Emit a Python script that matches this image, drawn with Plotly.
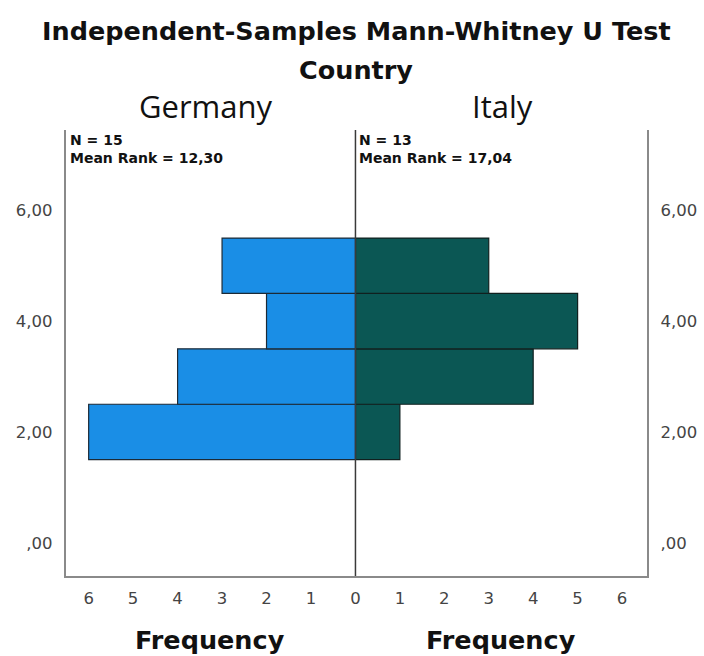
import plotly.graph_objects as go

# ---- data ----
score_bins = [2, 3, 4, 5]
germany_freq = [6, 4, 2, 3]
italy_freq = [1, 4, 5, 3]
groups = ["Germany", "Italy"]
group_n = [15, 13]
mean_ranks = ["12,30", "17,04"]
y_tickvals = [0, 2, 4, 6]
y_ticktext = [",00", "2,00", "4,00", "6,00"]
x_ticks_left = [0, 1, 2, 3, 4, 5, 6]
x_ticks_right = [1, 2, 3, 4, 5, 6]

W, H = 704, 656


def px(x):
    return x / W


def py(y):
    return 1 - y / H


LEFT, MID, RIGHT = 66, 358, 652
TOP, BOTTOM = 130, 576

fig = go.Figure()
fig.add_trace(go.Bar(
    y=score_bins, x=germany_freq, orientation="h", width=1,
    marker=dict(color="#1a8ee6", line=dict(color="#1c2a36", width=1.2)),
    xaxis="x", yaxis="y", showlegend=False, name=groups[0]))
fig.add_trace(go.Bar(
    y=score_bins, x=italy_freq, orientation="h", width=1,
    marker=dict(color="#0b5754", line=dict(color="#10201f", width=1.2)),
    xaxis="x2", yaxis="y2", showlegend=False, name=groups[1]))

tickfont = dict(family="DejaVu Sans", size=16.5, color="#444444")
axis_common = dict(showgrid=False, zeroline=False, ticks="", showline=True,
                   linecolor="#8a8a8a", linewidth=1.5, tickfont=tickfont,
                   fixedrange=True)

fig.update_layout(
    width=W, height=H,
    margin=dict(l=0, r=0, t=0, b=0),
    paper_bgcolor="white", plot_bgcolor="white",
    xaxis=dict(domain=[px(LEFT), px(MID)], range=[6.52, 0], tickvals=x_ticks_left,
               anchor="y", ticklabelstandoff=6, **axis_common),
    xaxis2=dict(domain=[px(MID), px(RIGHT)], range=[0, 6.57], tickvals=x_ticks_right,
                anchor="y2", ticklabelstandoff=6, **axis_common),
    yaxis=dict(domain=[py(BOTTOM), py(TOP)], range=[-0.6, 7.45], tickvals=y_tickvals,
               ticktext=y_ticktext, anchor="x", side="left", ticklabelstandoff=8,
               **axis_common),
    yaxis2=dict(domain=[py(BOTTOM), py(TOP)], range=[-0.6, 7.45], tickvals=y_tickvals,
                ticktext=y_ticktext, anchor="x2", side="right", ticklabelstandoff=8,
                **axis_common),
)

# middle divider line
fig.add_shape(type="line", xref="paper", yref="paper", x0=px(MID), x1=px(MID),
              y0=py(BOTTOM), y1=py(TOP), line=dict(color="#3a3a3a", width=1.5),
              layer="above")

bold = dict(family="DejaVu Sans", size=25.5, color="#111111")
ann = []
ann.append(dict(text="<b>Independent-Samples Mann-Whitney U Test</b>", x=px(359), y=py(31),
                font=bold))
ann.append(dict(text="<b>Country</b>", x=px(359), y=py(70), font=bold))
ann.append(dict(text=groups[0], x=px(207), y=py(106),
                font=dict(family="Open Sans", size=31, color="#111111")))
ann.append(dict(text=groups[1], x=px(506), y=py(106),
                font=dict(family="Open Sans", size=31, color="#111111")))
ann.append(dict(text="<b>Frequency</b>", x=px(212), y=py(640), font=bold))
ann.append(dict(text="<b>Frequency</b>", x=px(505), y=py(640), font=bold))

small = dict(family="DejaVu Sans", size=14, color="#111111")
for xs, n, mr in [(LEFT + 2, group_n[0], mean_ranks[0]), (MID + 2, group_n[1], mean_ranks[1])]:
    ann.append(dict(text=f"<b>N = {n}</b>", x=px(xs), y=py(140), xanchor="left", font=small))
    ann.append(dict(text=f"<b>Mean Rank = {mr}</b>", x=px(xs), y=py(157.5), xanchor="left", font=small))

for a in ann:
    a.setdefault("xanchor", "center")
    a.update(xref="paper", yref="paper", yanchor="middle", showarrow=False)
fig.update_layout(annotations=ann)

fig.write_html("out.html", config={"displayModeBar": False},
               post_script="document.body.style.margin='0';document.body.style.overflow='hidden';")
